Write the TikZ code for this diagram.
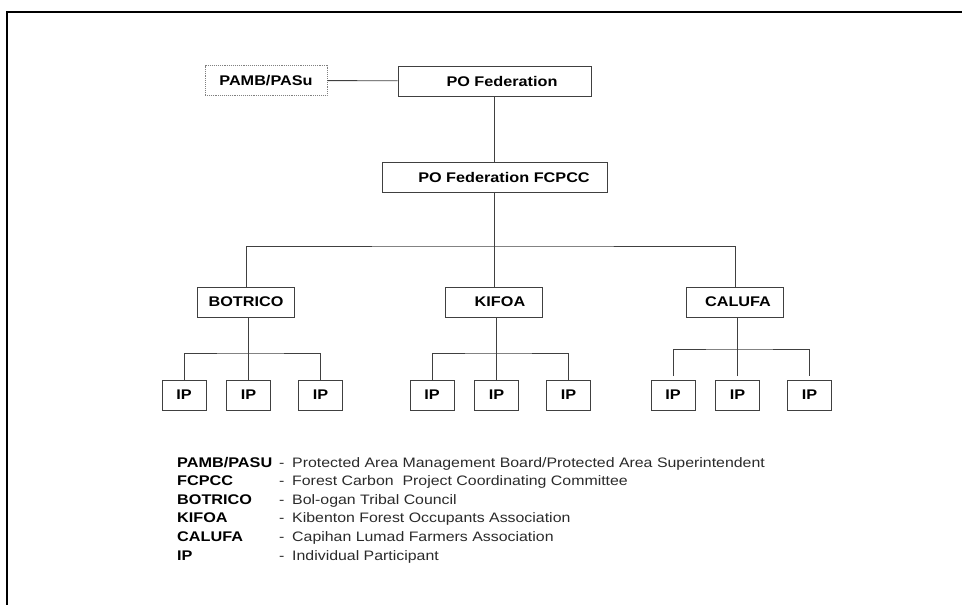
\documentclass[tikz,border=0pt]{standalone}
\usepackage{fontspec}
\setmainfont[FakeStretch=1.16]{Liberation Sans}
\usetikzlibrary{positioning}
\definecolor{linha}{HTML}{404040}
\definecolor{texto}{HTML}{2A2A2A}
\begin{document}
\begin{tikzpicture}[x=1pt,y=-1pt,
  bx/.style={draw=linha, line width=0.9pt, fill=white, minimum height=30pt, inner sep=0pt, font=\fontsize{14}{16}\selectfont\bfseries},
  ip/.style={bx, minimum width=44pt},
  ln/.style={draw=linha, line width=0.9pt},
  ab/.style={anchor=base west, inner sep=0pt, font=\fontsize{14}{16}\selectfont\bfseries},
  ds/.style={anchor=base west, inner sep=0pt, text=texto, font=\fontsize{13.7}{16}\selectfont}]
  \useasboundingbox (0,0) rectangle (962,605);
  \draw[line width=1.6pt] (7,605) -- (7,12) -- (962,12);
  \node[bx, minimum width=122pt, draw=gray, densely dotted] (pamb) at (266,80.5) {PAMB/PASu};
  \node[bx, minimum width=193pt] (pofed) at (494.5,81) {\hspace*{15pt}PO Federation};
  \node[bx, minimum width=225pt] (fcpcc) at (494.5,177.5) {\hspace*{19pt}PO Federation FCPCC};
  \draw[ln] (pamb) -- (pofed);
  \draw[ln] (pofed) -- (fcpcc);
  \coordinate (bar) at (494.5,246);
  \foreach \n/\t/\x/\s in {botrico/BOTRICO/246/0, kifoa/KIFOA/494/12, calufa/CALUFA/735/6}
    \node[bx, minimum width=97pt] (\n) at (\x,302) {\hspace*{\s pt}\t};
  \draw[ln] (fcpcc.south) -- (bar);
  \draw[ln] (botrico.north) |- (bar) -| (calufa.north);
  \draw[ln] (kifoa.north) -- (kifoa.north |- bar);
  \foreach \n/\x/\h/\g in {botrico/246/353/0, kifoa/494/353/0, calufa/735/349/3.5}{
    \foreach \d [count=\k] in {-62,2.5,74.5}
      \node[ip] (\n\k) at (\x+\d,395) {IP};
    \draw[ln, shorten <=\g pt] (\n2.north) -- (\n2.north |- \n.south);
    \draw[ln, shorten <=\g pt, shorten >=\g pt] (\n1.north) |- (\n2.north |- 0,\h) -| (\n3.north);
  }
  \foreach \a/\b [count=\i] in {{PAMB/PASU}/{Protected Area Management Board/Protected Area Superintendent},
      FCPCC/{Forest Carbon\ \ Project Coordinating Committee}, BOTRICO/{Bol-ogan Tribal Council},
      KIFOA/{Kibenton Forest Occupants Association}, CALUFA/{Capihan Lumad Farmers Association},
      IP/{Individual Participant}}{
    \node[ab] (ab\i) at (177,448.4+18.6*\i) {\a};
    \node[ds] (hf\i) at (279,448.4+18.6*\i) {-};
    \node[ds] (ds\i) at (292,448.4+18.6*\i) {\b};
  }
\end{tikzpicture}
\end{document}
